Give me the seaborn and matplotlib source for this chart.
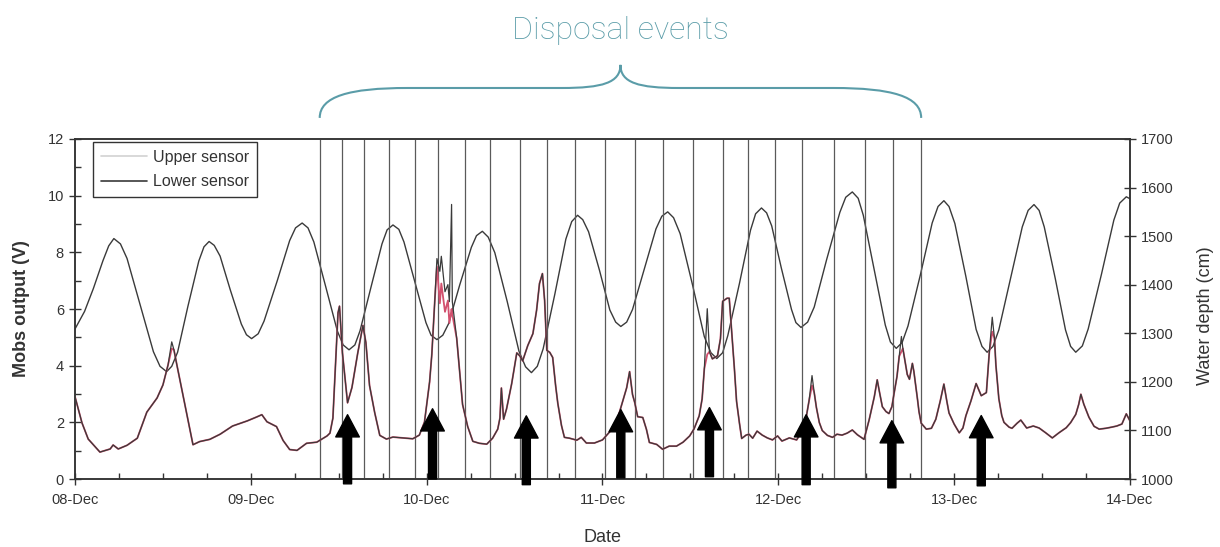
import matplotlib
matplotlib.use("Agg")
import matplotlib.pyplot as plt
import matplotlib.transforms as mtransforms
from matplotlib.lines import Line2D
from matplotlib.path import Path
from matplotlib.patches import PathPatch
from matplotlib.ticker import MultipleLocator
import seaborn as sns

# hours after 08-Dec 00:00
day_hours = [0, 24, 48, 72, 96, 120, 144]
day_labels = ["08-Dec", "09-Dec", "10-Dec", "11-Dec", "12-Dec", "13-Dec", "14-Dec"]
series_labels = ["Upper sensor", "Lower sensor"]

# water depth (cm), right axis
tide_hours = [0.0, 1.3, 2.5, 3.8, 4.6, 5.3, 6.2, 7.1, 8.9, 10.7,
              11.6, 12.5, 13.2, 14.0, 15.4, 16.9, 17.6, 18.3, 19.0, 19.8,
              21.2, 22.7, 23.4, 24.1, 25.0, 25.8, 27.6, 29.3, 30.1, 31.0,
              31.8, 32.6, 34.2, 35.8, 36.6, 37.4, 38.2, 38.9, 40.4, 41.9,
              42.6, 43.4, 44.2, 44.9, 46.4, 47.9, 48.6, 49.4, 50.2, 51.0,
              52.5, 54.1, 54.8, 55.6, 56.4, 57.3, 59.0, 60.6, 61.5, 62.3,
              63.1, 63.9, 65.5, 67.0, 67.8, 68.6, 69.3, 70.1, 71.6, 73.0,
              73.8, 74.5, 75.3, 76.1, 77.7, 79.3, 80.1, 80.9, 81.7, 82.6,
              84.3, 85.9, 86.8, 87.6, 88.4, 89.1, 90.7, 92.2, 92.9, 93.7,
              94.4, 95.1, 96.4, 97.8, 98.4, 99.1, 100.0, 100.9, 102.6, 104.4,
              105.2, 106.1, 106.9, 107.6, 109.1, 110.6, 111.3, 112.1, 112.9, 113.7,
              115.4, 117.0, 117.8, 118.6, 119.3, 120.1, 121.6, 123.0, 123.8, 124.5,
              125.3, 126.1, 127.7, 129.3, 130.1, 130.9, 131.6, 132.3, 133.8, 135.2,
              135.9, 136.6, 137.5, 138.3, 140.1, 141.8, 142.6, 143.5, 144.0]
tide_depth = [1309, 1345, 1392, 1449, 1480, 1495, 1484, 1454, 1358, 1262,
              1232, 1221, 1232, 1261, 1355, 1449, 1478, 1489, 1481, 1459,
              1389, 1319, 1297, 1289, 1299, 1325, 1408, 1491, 1517, 1527,
              1517, 1488, 1397, 1305, 1276, 1266, 1276, 1305, 1395, 1484,
              1513, 1523, 1514, 1488, 1405, 1322, 1296, 1287, 1296, 1320,
              1399, 1477, 1501, 1510, 1498, 1466, 1365, 1263, 1231, 1219,
              1232, 1268, 1381, 1494, 1530, 1543, 1534, 1509, 1429, 1348,
              1323, 1314, 1323, 1349, 1432, 1515, 1541, 1550, 1538, 1505,
              1399, 1293, 1260, 1248, 1260, 1295, 1403, 1512, 1546, 1558,
              1548, 1521, 1435, 1349, 1322, 1312, 1323, 1354, 1452, 1549,
              1580, 1591, 1578, 1543, 1430, 1317, 1282, 1269, 1281, 1315,
              1421, 1527, 1561, 1573, 1561, 1526, 1417, 1308, 1273, 1261,
              1273, 1307, 1413, 1519, 1553, 1565, 1553, 1519, 1413, 1307,
              1273, 1261, 1274, 1309, 1421, 1533, 1568, 1581, 1577]

# OBS output (V), left axis
obs_hours = [0.0, 0.95, 1.8, 3.4, 4.8, 5.2, 5.9, 7.1, 8.5, 9.8, 11.2, 12.0, 12.7, 13.2, 13.5,
             13.9, 15.0, 16.1, 17.0, 18.4, 19.8, 21.5, 23.5, 24.8, 25.5, 26.2, 27.5, 28.4,
             29.3, 30.3, 31.6, 33.0, 34.4,
             34.8, 35.2, 35.5, 35.9, 36.1, 36.5, 37.2, 37.8, 38.6, 39.3, 39.7, 40.2, 40.9,
             41.6, 42.5, 43.4, 44.7, 46.1, 47.0, 47.7, 48.0, 48.4, 48.7, 49.1, 49.4, 49.8,
             50.0, 50.5, 50.9, 51.1, 51.4, 51.5, 52.1, 52.5, 52.9, 53.6, 54.3, 55.2, 56.2,
             57.0, 57.7, 58.0, 58.2, 58.5, 58.9, 59.6, 60.3, 60.7, 61.1, 61.8, 62.5, 63.0,
             63.4, 63.8, 64.1, 64.4, 64.8, 65.2, 65.6, 65.9, 66.4, 66.8, 67.5, 68.5, 69.1,
             69.8, 70.9,
             72.0, 73.0, 73.9, 74.7, 75.3, 75.7, 76.1, 76.4, 76.8, 77.5, 78.0, 78.4, 79.4,
             80.2, 81.1, 82.1, 83.0, 83.9, 84.5, 85.2, 85.6, 85.9, 86.3, 86.6, 87.0, 87.7,
             88.1, 88.4, 89.0, 89.3, 89.6, 90.0, 90.3, 90.7, 91.0, 91.6, 92.0, 92.5, 93.1,
             93.8, 94.5, 95.2, 95.9, 96.5, 97.5, 98.5, 99.3, 99.8, 100.2, 100.6, 100.9,
             101.2, 101.6, 102.0, 102.7, 103.4, 104.0, 104.7, 105.4, 106.1, 106.8,
             107.7, 108.4, 109.1, 109.5, 109.8, 110.2, 110.7, 111.1, 111.5, 111.8, 112.2,
             112.5, 112.8, 113.0, 113.3, 113.6, 113.9, 114.3, 114.5, 115.0, 115.2, 115.5,
             116.2, 116.9, 117.5, 118.1, 118.6, 119.0, 119.3, 120.0, 120.7, 121.2, 121.6,
             122.3, 123.0, 123.4, 123.7, 124.4, 124.8, 125.2, 125.5, 125.7, 126.1, 126.5,
             126.8, 127.5, 127.9, 128.6, 129.1, 129.9, 130.8, 131.6, 132.5, 133.4, 134.3,
             135.3, 135.9, 136.6, 137.0, 137.3, 137.7, 138.4, 139.1, 139.8, 140.7, 141.5,
             142.2, 142.9, 143.5, 144.0]
lower_v = [2.90, 1.98, 1.41, 0.95, 1.06, 1.20, 1.06, 1.19, 1.44, 2.36, 2.86, 3.32, 4.03, 4.84, 4.56,
           4.03, 2.62, 1.21, 1.32, 1.40, 1.58, 1.87, 2.05, 2.19, 2.27, 2.02, 1.85, 1.36,
           1.04, 1.01, 1.26, 1.30, 1.52,
           1.62, 2.15, 3.75, 5.87, 6.10, 4.45, 2.69, 3.23, 4.46, 5.42, 4.82, 3.30, 2.35,
           1.54, 1.41, 1.48, 1.45, 1.42, 1.55, 2.01, 2.61, 3.43, 4.39, 6.26, 7.78, 7.33,
           7.86, 6.61, 6.86, 6.26, 9.69, 6.26, 4.96, 3.79, 2.63, 1.85, 1.33, 1.26, 1.23,
           1.44, 1.76, 2.15, 3.21, 2.11, 2.47, 3.36, 4.45, 4.35, 4.17, 4.71, 5.13, 5.95,
           6.90, 7.25, 6.30, 4.54, 4.47, 4.29, 3.30, 2.67, 1.89, 1.47, 1.44, 1.37, 1.47,
           1.27, 1.27,
           1.38, 1.67, 1.99, 2.69, 3.22, 3.79, 2.98, 2.70, 2.20, 2.17, 1.75, 1.29, 1.22,
           1.05, 1.16, 1.16, 1.30, 1.52, 1.77, 2.23, 2.83, 3.89, 6.01, 4.49, 4.24, 4.35,
           4.95, 6.27, 6.38, 6.38, 5.32, 3.91, 2.74, 1.96, 1.43, 1.55, 1.58, 1.44, 1.69,
           1.55, 1.45, 1.38, 1.52, 1.34, 1.45, 1.38, 1.71, 2.17, 2.77, 3.65, 3.05,
           2.52, 1.99, 1.71, 1.54, 1.47, 1.58, 1.55, 1.62, 1.73, 1.56,
           1.40, 2.09, 2.90, 3.50, 3.08, 2.55, 2.38, 2.31, 2.55, 3.02, 3.62,
           4.33, 5.03, 4.61, 4.15, 3.69, 3.52, 4.08, 3.80, 2.81, 2.38, 1.97,
           1.76, 1.79, 2.11, 2.75, 3.35, 2.75, 2.33, 1.94, 1.63, 1.80, 2.23,
           2.76, 3.37, 3.12, 2.94, 3.05, 4.47, 5.71, 4.97, 4.02, 2.84, 2.24,
           2.00, 1.83, 1.79, 1.97, 2.08, 1.80, 1.87, 1.80, 1.63, 1.45, 1.63,
           1.81, 1.99, 2.28, 2.63, 2.99, 2.64, 2.18, 1.86, 1.76, 1.79, 1.83,
           1.87, 1.94, 2.30, 2.05]
upper_v = [2.90, 1.98, 1.41, 0.95, 1.06, 1.20, 1.06, 1.19, 1.44, 2.36, 2.86, 3.32, 4.03, 4.60, 4.56,
           4.03, 2.62, 1.21, 1.32, 1.40, 1.58, 1.87, 2.05, 2.19, 2.27, 2.02, 1.85, 1.36,
           1.04, 1.01, 1.26, 1.30, 1.52,
           1.62, 2.15, 3.75, 5.87, 6.10, 4.45, 2.69, 3.23, 4.46, 5.42, 4.82, 3.30, 2.35,
           1.54, 1.41, 1.48, 1.45, 1.42, 1.55, 2.01, 2.61, 3.43, 4.39, 6.26, 7.50, 6.20,
           6.90, 5.90, 6.30, 5.50, 6.00, 5.80, 4.96, 3.79, 2.63, 1.85, 1.33, 1.26, 1.23,
           1.44, 1.76, 2.15, 3.21, 2.11, 2.47, 3.36, 4.45, 4.35, 4.17, 4.71, 5.13, 5.95,
           6.90, 7.25, 6.30, 4.54, 4.47, 4.29, 3.30, 2.67, 1.89, 1.47, 1.44, 1.37, 1.47,
           1.27, 1.27,
           1.38, 1.67, 1.99, 2.69, 3.22, 3.79, 2.98, 2.70, 2.20, 2.17, 1.75, 1.29, 1.22,
           1.05, 1.16, 1.16, 1.30, 1.52, 1.77, 2.23, 2.83, 3.89, 4.40, 4.49, 4.24, 4.35,
           4.95, 6.27, 6.38, 6.38, 5.32, 3.91, 2.74, 1.96, 1.43, 1.55, 1.58, 1.44, 1.69,
           1.55, 1.45, 1.38, 1.52, 1.34, 1.45, 1.38, 1.71, 2.17, 2.77, 3.30, 3.05,
           2.52, 1.99, 1.71, 1.54, 1.47, 1.58, 1.55, 1.62, 1.73, 1.56,
           1.40, 2.09, 2.90, 3.50, 3.08, 2.55, 2.38, 2.31, 2.55, 3.02, 3.62,
           4.33, 4.50, 4.61, 4.15, 3.69, 3.52, 4.08, 3.80, 2.81, 2.38, 1.97,
           1.76, 1.79, 2.11, 2.75, 3.35, 2.75, 2.33, 1.94, 1.63, 1.80, 2.23,
           2.76, 3.37, 3.12, 2.94, 3.05, 4.47, 5.20, 4.97, 4.02, 2.84, 2.24,
           2.00, 1.83, 1.79, 1.97, 2.08, 1.80, 1.87, 1.80, 1.63, 1.45, 1.63,
           1.81, 1.99, 2.28, 2.63, 2.99, 2.64, 2.18, 1.86, 1.76, 1.79, 1.83,
           1.87, 1.94, 2.30, 2.05]

# disposal events (vertical lines) and highlighted ones (arrows)
event_hours = [33.4, 36.4, 39.4, 42.8, 46.4, 49.5, 53.2, 56.7, 60.7, 64.4, 68.3, 72.3,
               76.5, 80.3, 84.4, 88.4, 91.8, 95.6, 99.3, 103.6, 107.8, 111.7, 115.5]
arrow_hours = [37.2, 48.8, 61.6, 74.5, 86.6, 99.8, 111.5, 123.7]
arrow_tip_v = [2.27, 2.48, 2.23, 2.45, 2.52, 2.27, 2.06, 2.24]
arrow_base_v = [-0.17, 0.0, -0.2, 0.04, 0.08, -0.2, -0.31, -0.24]

sns.set_style("ticks")
plt.rcParams["font.family"] = ["Liberation Sans", "DejaVu Sans"]

ink = "#333333"
teal = "#5a9ca8"

fig = plt.figure(figsize=(12.2, 5.47), dpi=100)
ax = fig.add_axes([0.0615, 0.1243, 0.8647, 0.6216])
ax2 = ax.twinx()

for t in event_hours:
    ax.axvline(t, color="#5a5a5a", lw=0.9, zorder=1)

sns.lineplot(x=tide_hours, y=tide_depth, ax=ax2, color="#3a3a3a", lw=1.0,
             estimator=None, sort=False)
sns.lineplot(x=obs_hours, y=upper_v, ax=ax, color="#d2506e", lw=1.3,
             estimator=None, sort=False, zorder=2)
sns.lineplot(x=obs_hours, y=lower_v, ax=ax, color="#3a3a3a", lw=0.9,
             estimator=None, sort=False, zorder=3)

ax.set_zorder(ax2.get_zorder() + 1)
ax.patch.set_visible(False)

for t, tip, base in zip(arrow_hours, arrow_tip_v, arrow_base_v):
    ax.annotate("", xy=(t, tip), xytext=(t, base), annotation_clip=False,
                arrowprops=dict(arrowstyle="simple,head_length=0.8,head_width=0.85,tail_width=0.29",
                                fc="black", ec="black", shrinkA=0, shrinkB=0,
                                mutation_scale=20))

ax.set_xlim(0, 144)
ax.set_ylim(0, 12)
ax2.set_ylim(1000, 1700)
ax.set_xticks(day_hours)
ax.set_xticklabels(day_labels)
ax.xaxis.set_minor_locator(MultipleLocator(6))
ax.set_yticks(range(0, 13, 2))
ax.yaxis.set_minor_locator(MultipleLocator(1))
ax2.set_yticks(range(1000, 1701, 100))

ax.tick_params(axis="x", which="major", direction="inout", length=8, width=1,
               colors=ink, labelsize=10.5, pad=6)
ax.tick_params(axis="x", which="minor", direction="in", length=4, width=1, color=ink)
ax.tick_params(axis="y", which="major", direction="inout", length=8, width=1,
               colors=ink, labelsize=10.5, pad=4)
ax.tick_params(axis="y", which="minor", direction="in", length=4, width=1, color=ink)
ax2.tick_params(axis="y", which="major", direction="inout", length=8, width=1,
                colors=ink, labelsize=10.5, pad=4)
for a in (ax, ax2):
    for s in a.spines.values():
        s.set_visible(True)
        s.set_color(ink)
        s.set_linewidth(1.1)

ax.set_xlabel("Date", fontsize=13, color=ink)
ax.xaxis.set_label_coords(0.5, -0.147)
ax.set_ylabel("Mobs output (V)", fontsize=13, fontweight="bold", color=ink)
ax.yaxis.set_label_coords(-0.043, 0.5)
ax2.set_ylabel("Water depth (cm)", fontsize=13, color=ink, rotation=90)
ax2.yaxis.set_label_coords(1.0635, 0.48)

handles = [Line2D([], [], color="#d2d2d2", lw=1.2), Line2D([], [], color="#3a3a3a", lw=1.2)]
leg = ax.legend(handles, series_labels, loc="upper left", bbox_to_anchor=(0.017, 0.992),
                frameon=True, fancybox=False, edgecolor=ink, framealpha=1, fontsize=11.5,
                handlelength=2.9, handletextpad=0.35, borderpad=0.5, labelspacing=0.6,
                borderaxespad=0)
leg.get_frame().set_linewidth(1.0)
for txt in leg.get_texts():
    txt.set_color(ink)

# brace spanning the disposal events, with its caption
trans = mtransforms.blended_transform_factory(ax.transData, ax.transAxes)
x0, x1 = event_hours[0], event_hours[-1]
mid = (x0 + x1) / 2
y_end, y_flat, y_tip = 1.062, 1.15, 1.218
verts = [(x0, y_end), (x0, 1.125), (x0 + 4, y_flat), (x0 + 12, y_flat),
         (mid - 8, y_flat),
         (mid - 2.5, y_flat), (mid, 1.165), (mid, y_tip),
         (mid, 1.165), (mid + 2.5, y_flat), (mid + 8, y_flat),
         (x1 - 12, y_flat),
         (x1 - 4, y_flat), (x1, 1.125), (x1, y_end)]
codes = [Path.MOVETO, Path.CURVE4, Path.CURVE4, Path.CURVE4,
         Path.LINETO,
         Path.CURVE4, Path.CURVE4, Path.CURVE4,
         Path.CURVE4, Path.CURVE4, Path.CURVE4,
         Path.LINETO,
         Path.CURVE4, Path.CURVE4, Path.CURVE4]
ax.add_patch(PathPatch(Path(verts, codes), transform=trans, fill=False,
                       edgecolor=teal, lw=1.5, clip_on=False))
ax.text(mid, 1.32, "Disposal events", transform=trans, ha="center", va="center",
        fontsize=23, color=teal, family=["Roboto", "DejaVu Sans"], fontweight="light")

fig.savefig("out.png", dpi=100)
